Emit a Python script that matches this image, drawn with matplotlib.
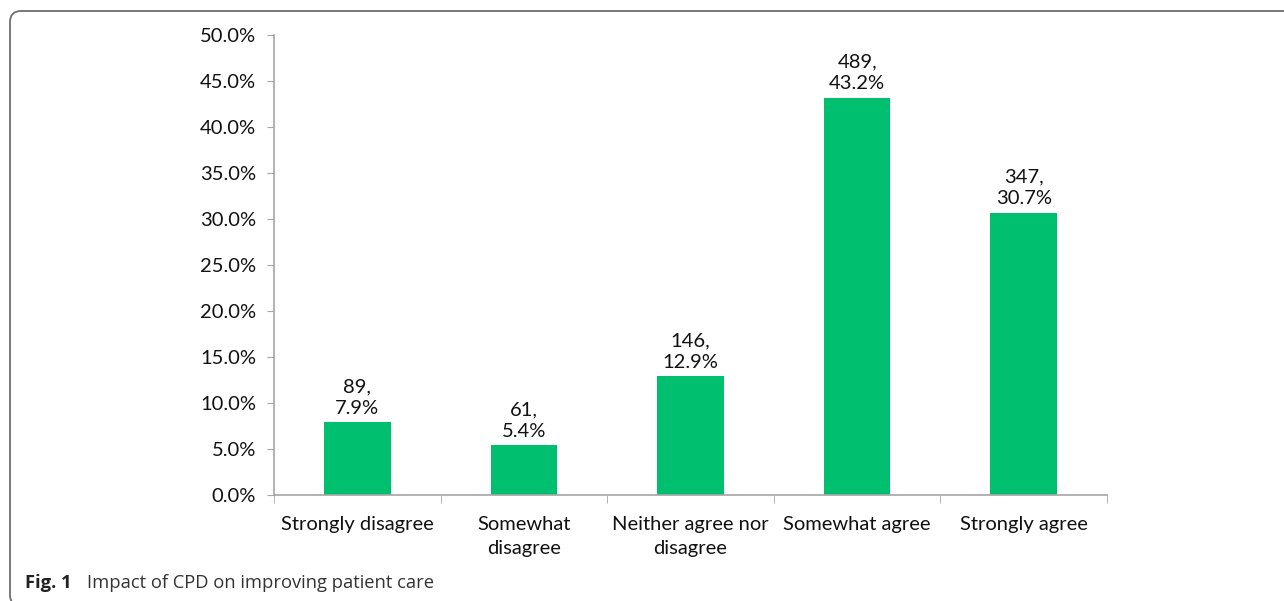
import matplotlib

matplotlib.use("Agg")

import matplotlib.pyplot as plt  # noqa: E402
from matplotlib.patches import FancyBboxPatch  # noqa: E402
from matplotlib.ticker import FuncFormatter, MultipleLocator  # noqa: E402

categories = ["Strongly disagree", "Somewhat\ndisagree", "Neither agree nor\ndisagree",
              "Somewhat agree", "Strongly agree"]
counts = [89, 61, 146, 489, 347]
percents = [7.9, 5.4, 12.9, 43.2, 30.7]

BAR_COLOR = "#00BF6F"
AXIS_COLOR = "#A6A6A6"
FS = 14.5
plt.rcParams["font.family"] = ["Lato", "DejaVu Sans"]

fig = plt.figure(figsize=(12.84, 6.01), dpi=100)
ax = fig.add_axes([274 / 1284, 1 - 495 / 601, (1107 - 274) / 1284, (495 - 35) / 601])

x = list(range(len(categories)))
ax.bar(x, percents, width=0.4, color=BAR_COLOR, zorder=2)

for xi, n, p in zip(x, counts, percents):
    ax.annotate(f"{n},\n{p:.1f}%", (xi, p), xytext=(0, 4), textcoords="offset points",
                ha="center", va="bottom", fontsize=FS, color="#111111", linespacing=1.3)

ax.set_xlim(-0.5, len(categories) - 0.5)
ax.set_ylim(0, 50)
ax.yaxis.set_major_locator(MultipleLocator(5))
ax.yaxis.set_major_formatter(FuncFormatter(lambda v, _pos: f"{v:.1f}%"))

ax.set_xticks(x)
ax.set_xticklabels(categories, fontsize=FS, color="#111111", linespacing=1.5)
ax.set_xticks([i - 0.5 for i in range(len(categories) + 1)], minor=True)
ax.tick_params(axis="x", which="major", length=0, pad=15)
ax.tick_params(axis="x", which="minor", length=6, color=AXIS_COLOR, direction="out")
ax.tick_params(axis="y", length=5, color=AXIS_COLOR, labelsize=FS, labelcolor="#111111", pad=8)

for side in ("top", "right"):
    ax.spines[side].set_visible(False)
for side in ("left", "bottom"):
    ax.spines[side].set_color(AXIS_COLOR)
    ax.spines[side].set_linewidth(1.2)

# rounded figure frame (in inches), open past the right and bottom edges
frame = FancyBboxPatch((0.10, -0.05), 13.5, 6.01 - 0.11 + 0.05,
                       boxstyle="round,pad=0,rounding_size=0.11",
                       transform=fig.dpi_scale_trans, fill=False,
                       edgecolor="#6E6E6E", linewidth=1.3, clip_on=False)
fig.patches.append(frame)

fig.text(25 / 1284, 1 - 588 / 601, "Fig. 1", fontfamily="Open Sans", fontweight="bold",
         fontsize=13.2, color="#222222", va="baseline")
fig.text(87 / 1284, 1 - 588 / 601, "Impact of CPD on improving patient care",
         fontfamily="Open Sans", fontsize=13.2, color="#333333", va="baseline")

fig.savefig("out.png", dpi=100)
